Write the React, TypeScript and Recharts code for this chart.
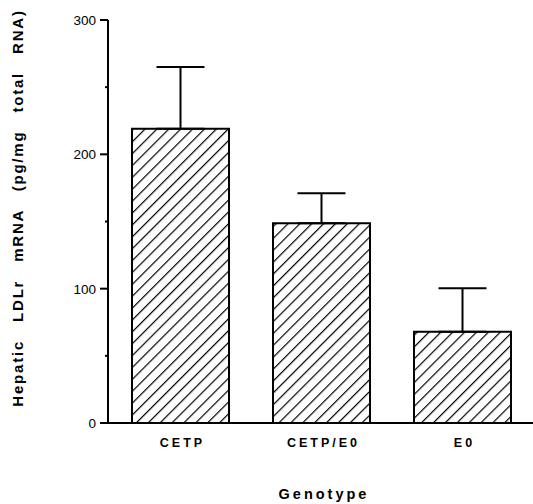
import { BarChart, Bar, XAxis, YAxis, ErrorBar, Label } from "recharts";

const genotypes = ["CETP", "CETP/E0", "E0"];
const ldlrMrna = [219, 148.7, 68];
const sem = [46, 22.3, 32.3];
const yTicks = [0, 50, 100, 150, 200, 250, 300];
const yLabeled = [0, 100, 200, 300];

const data = genotypes.map((g, i) => ({ genotype: g, value: ldlrMrna[i], err: [0, sem[i]] }));

const FONT = "'Liberation Sans', Arial, Helvetica, sans-serif";

const YTick = (props: any) => {
    const { x, y, payload } = props;
    const major = yLabeled.includes(payload.value);
    return (
        <g>
            <line x1={x - (major ? 8 : 3)} y1={y} x2={x} y2={y} stroke="#000" strokeWidth={2} />
            {major && (
                <text x={x - 12} y={y} dy={5} textAnchor="end" fontFamily={FONT} fontSize={13.5} fill="#000">
                    {payload.value}
                </text>
            )}
        </g>
    );
};

const XTick = (props: any) => {
    const { x, y, payload } = props;
    return (
        <text x={x + 2} y={y + 24} textAnchor="middle" fontFamily={FONT} fontWeight="bold" fontSize={12.5} letterSpacing={3} fill="#000">
            {payload.value}
        </text>
    );
};

export default function App() {
    return (
        <div style={{ position: "absolute", left: 0, top: 0, width: 533, height: 504, background: "#fff" }}>
            <BarChart width={533} height={504} data={data} margin={{ top: 20, right: 0, bottom: 0, left: 0 }}>
                <defs>
                    <pattern id="hatch" width={8.4} height={8.4} patternUnits="userSpaceOnUse" patternTransform="rotate(45)">
                        <rect width={8.4} height={8.4} fill="#fff" />
                        <line x1={0} y1={0} x2={0} y2={8.4} stroke="#000" strokeWidth={2.4} />
                    </pattern>
                </defs>
                <XAxis
                    dataKey="genotype"
                    height={81}
                    padding={{ left: 2, right: 0 }}
                    axisLine={{ stroke: "#000", strokeWidth: 2 }}
                    tickLine={false}
                    tickSize={0}
                    tickMargin={0}
                    tick={<XTick />}
                    interval={0}
                >
                    <Label
                        content={() => (
                            <text x={324} y={499} textAnchor="middle" fontFamily={FONT} fontWeight="bold" fontSize={14.5} letterSpacing={3} fill="#000">
                                Genotype
                            </text>
                        )}
                    />
                </XAxis>
                <YAxis
                    width={108}
                    domain={[0, 300]}
                    ticks={yTicks}
                    interval={0}
                    axisLine={{ stroke: "#000", strokeWidth: 2 }}
                    tickLine={false}
                    tickSize={0}
                    tickMargin={0}
                    tick={<YTick />}
                >
                    <Label
                        content={() => (
                            <text
                                x={23}
                                y={208}
                                transform="rotate(-90, 23, 208)"
                                textAnchor="middle"
                                fontFamily={FONT}
                                fontWeight="bold"
                                fontSize={15}
                                letterSpacing={1.8}
                                wordSpacing={12}
                                fill="#000"
                            >
                                Hepatic LDLr mRNA (pg/mg total RNA)
                            </text>
                        )}
                    />
                </YAxis>
                <Bar dataKey="value" fill="url(#hatch)" stroke="#000" strokeWidth={2} barSize={97} isAnimationActive={false}>
                    <ErrorBar dataKey="err" direction="y" width={24} stroke="#000" strokeWidth={2} isAnimationActive={false} />
                </Bar>
            </BarChart>
        </div>
    );
}
